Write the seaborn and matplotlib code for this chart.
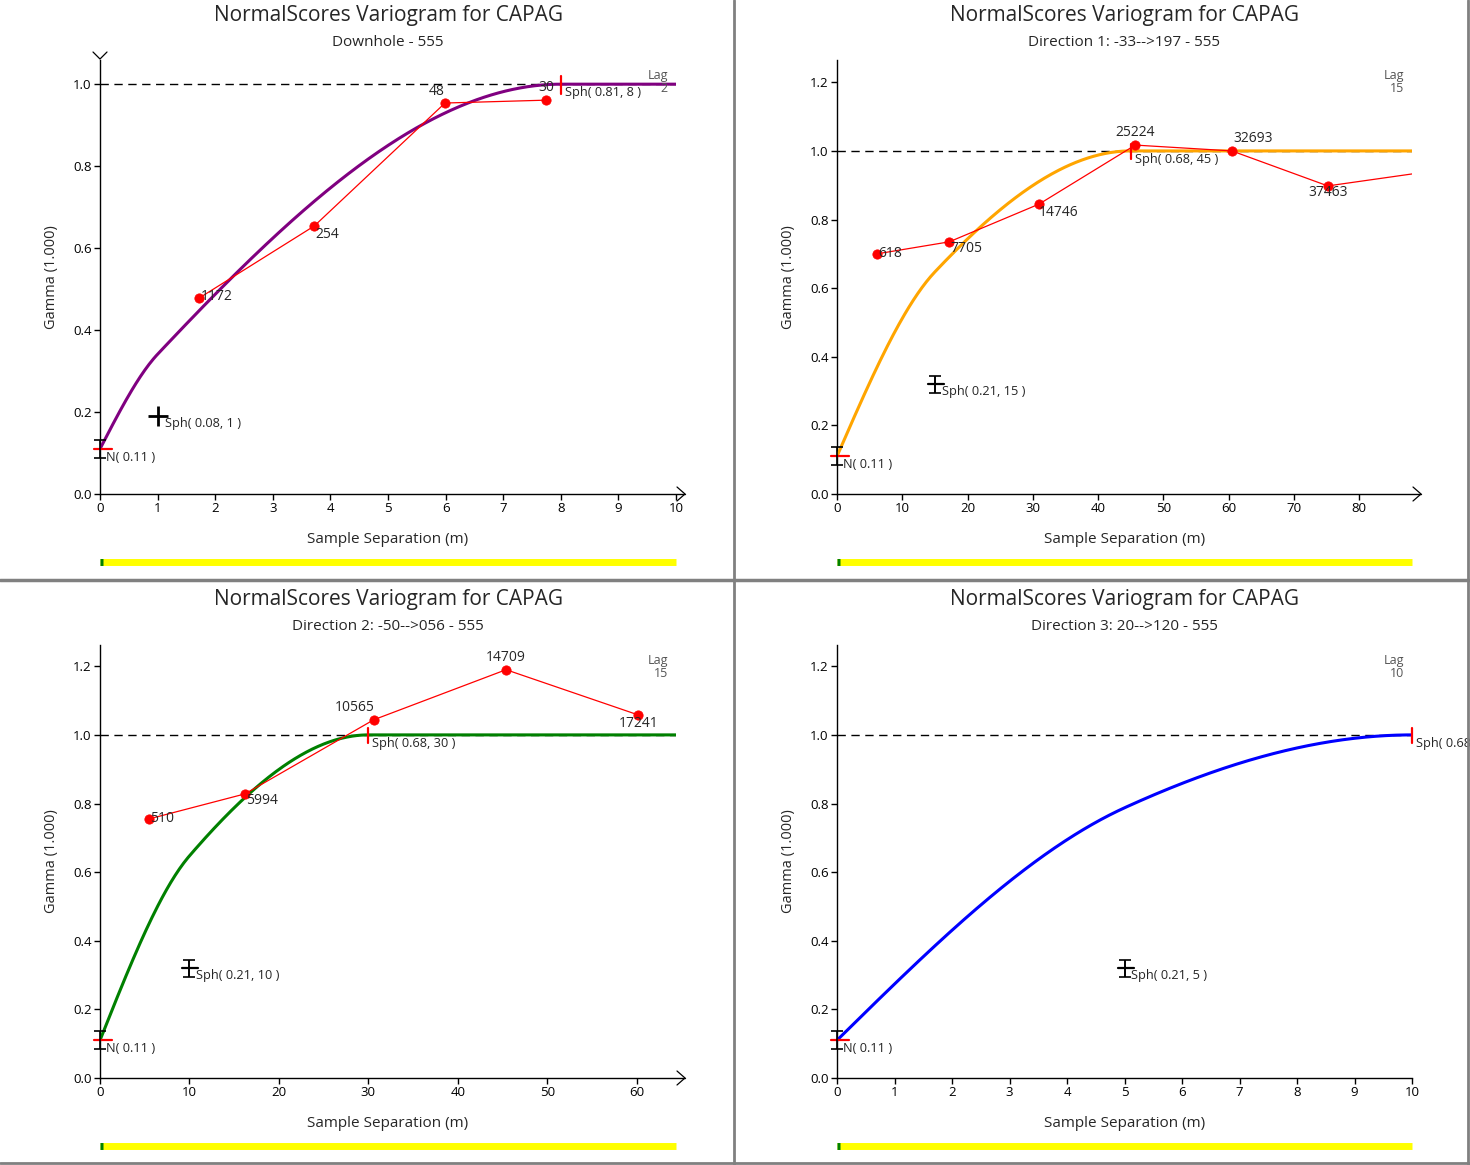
import numpy as np
import pandas as pd
import matplotlib
matplotlib.use("Agg")
import matplotlib.pyplot as plt
from matplotlib.lines import Line2D
import seaborn as sns

# === Data ===
TITLE = "NormalScores Variogram for CAPAG"
SUBTITLES = ["Downhole - 555", "Direction 1: -33-->197 - 555",
             "Direction 2: -50-->056 - 555", "Direction 3: 20-->120 - 555"]
LAGS = ["2", "15", "15", "10"]
MODEL_COLORS = ["#800080", "#FFA500", "#008000", "#0000FF"]

NUGGET = 0.11
# (sill, range) of the two spherical structures in each panel
STRUCT1 = [(0.08, 1), (0.21, 15), (0.21, 10), (0.21, 5)]
STRUCT2 = [(0.81, 8), (0.68, 45), (0.68, 30), (0.68, 10)]
XMAX = [10, 88.1, 64.4, 10]

# experimental points
dh_lag = [1.72, 3.72, 5.99, 7.74]
dh_gam = [0.478, 0.654, 0.954, 0.961]
dh_npairs = ["1172", "254", "48", "30"]

d1_lag = [6.13, 17.2, 30.96, 45.7, 60.5, 75.2, 90.0]
d1_gam = [0.700, 0.735, 0.845, 1.017, 1.000, 0.898, 0.938]
d1_npairs = ["618", "7705", "14746", "25224", "32693", "37463", ""]

d2_lag = [5.47, 16.2, 30.6, 45.4, 60.2]
d2_gam = [0.755, 0.828, 1.044, 1.190, 1.058]
d2_npairs = ["510", "5994", "10565", "14709", "17241"]

d3_lag, d3_gam, d3_npairs = [], [], []

EXP = [(dh_lag, dh_gam, dh_npairs), (d1_lag, d1_gam, d1_npairs),
       (d2_lag, d2_gam, d2_npairs), (d3_lag, d3_gam, d3_npairs)]

# label placement (offset points, horizontal alignment) per panel
LBL_OFF = [
    [(1, 1, "left"), (1, -6, "left"), (-6, 8, "center"), (0, 9, "center")],
    [(1, 0, "left"), (1, -5, "left"), (0, -6, "left"), (0, 9, "center"),
     (1, 9, "left"), (0, -5, "center"), (0, 0, "left")],
    [(1, 0, "left"), (1, -5, "left"), (-14, 9, "center"), (0, 9, "center"),
     (0, -6, "center")],
    [],
]

# axes boxes in pixels: left, right, y of zero, top
BOXES = [(100, 676, 494, 60), (837, 1412, 494, 60),
         (100, 676, 1078, 645), (837, 1412, 1078, 645)]
YTOP = [1.059, 1.265, 1.262, 1.262]
XSTEP = [1, 10, 10, 1]
YMAXTICK = [1.0, 1.2, 1.2, 1.2]

W, H = 1470, 1165

sns.set_theme(style="white")
plt.rcParams['font.family'] = ['Open Sans', 'DejaVu Sans']
plt.rcParams['axes.linewidth'] = 1.0


def sph(h, c, a):
    r = np.minimum(h / a, 1.0)
    return c * (1.5 * r - 0.5 * r ** 3)


fig = plt.figure(figsize=(W / 100, H / 100), dpi=100)

for i in range(4):
    l, r, y0, yt = BOXES[i]
    pw, ph = r - l, y0 - yt
    ax = fig.add_axes([l / W, 1 - y0 / H, pw / W, ph / H])
    ax.set_xlim(0, XMAX[i])
    ax.set_ylim(0, YTOP[i])
    for s in ["top", "right"]:
        ax.spines[s].set_visible(False)
    ax.spines["left"].set_color("black")
    ax.spines["bottom"].set_color("black")
    ax.tick_params(axis="both", direction="out", length=4, width=1,
                   colors="black", labelsize=9.5, pad=2, bottom=True, left=True)
    xt = np.arange(0, XMAX[i] + 0.01, XSTEP[i])
    ax.set_xticks(xt)
    ax.set_xticklabels([f"{v:g}" for v in xt])
    yt_vals = np.arange(0, YMAXTICK[i] + 0.01, 0.2)
    ax.set_yticks(yt_vals)
    ax.set_yticklabels([f"{v:.1f}" for v in yt_vals])
    ax.set_xlabel("Sample Separation (m)", fontsize=11, labelpad=12)
    ax.set_ylabel("Gamma (1.000)", fontsize=10.5, labelpad=10)

    # sill dashed line
    ax.axhline(1.0, color="black", ls=(0, (6, 4)), lw=1.0, zorder=1)

    # model curve
    c1, a1 = STRUCT1[i]
    c2, a2 = STRUCT2[i]
    h = np.linspace(0, XMAX[i], 400)
    model = pd.DataFrame({"h": h, "g": NUGGET + sph(h, c1, a1) + sph(h, c2, a2)})
    sns.lineplot(data=model, x="h", y="g", ax=ax, color=MODEL_COLORS[i],
                 lw=2.2, zorder=3, estimator=None, sort=False)

    # experimental variogram
    lag, gam, npairs = EXP[i]
    if lag:
        exp_df = pd.DataFrame({"lag": lag, "gamma": gam})
        sns.lineplot(data=exp_df, x="lag", y="gamma", ax=ax, color="red",
                     lw=0.9, zorder=4, estimator=None, sort=False)
        sns.scatterplot(data=exp_df, x="lag", y="gamma", ax=ax, color="red",
                        s=45, edgecolor="red", zorder=5)
        for (x, y, t), (dx, dy, ha) in zip(zip(lag, gam, npairs), LBL_OFF[i]):
            if t:
                ax.annotate(t, (x, y), xytext=(dx, dy), textcoords="offset points",
                            fontsize=10, ha=ha, va="center", zorder=6)

    # nugget marker
    ax.errorbar([0], [NUGGET], yerr=0.022 * YTOP[i] / 1.06, fmt="none",
                ecolor="black", capsize=4, elinewidth=1.2, capthick=1.2,
                zorder=7, clip_on=False)
    ax.plot([-6 / pw * XMAX[i], 12 / pw * XMAX[i]], [NUGGET, NUGGET], color="red",
            lw=1.6, zorder=6, clip_on=False)
    ax.annotate("N( 0.11 )", (0, NUGGET), xytext=(4, -6), textcoords="offset points",
                fontsize=9.2, ha="left", va="center")

    # first structure marker
    y1 = NUGGET + c1
    if i == 0:
        ax.plot([a1], [y1], marker="+", ms=14, mew=2, color="black", zorder=7)
    else:
        ax.errorbar([a1], [y1], yerr=0.025, fmt="none",
                    ecolor="black", capsize=4, elinewidth=1.4, capthick=1.2, zorder=7)
        ax.plot([a1 - 7 / pw * XMAX[i], a1 + 9 / pw * XMAX[i]], [y1, y1],
                color="black", lw=1.6, zorder=7)
    ax.annotate(f"Sph( {c1:.2f}, {a1} )", (a1, y1), xytext=(5, -5),
                textcoords="offset points", fontsize=9.2, ha="left", va="center")

    # second structure marker
    y2 = NUGGET + c1 + c2
    ax.plot([a2, a2], [y2 - 0.025, y2 + 0.02], color="red", lw=1.6, zorder=8,
            clip_on=False)
    ax.annotate(f"Sph( {c2:.2f}, {a2} )", (a2, y2), xytext=(3, -6),
                textcoords="offset points", fontsize=9.2, ha="left", va="center",
                annotation_clip=False)

    # lag text
    ax.text(1 - 8 / pw, 1 - 22 / ph, f"Lag\n{LAGS[i]}", transform=ax.transAxes,
            ha="right", va="center", fontsize=9, color="#555555", linespacing=0.95)

    # titles
    cx = (l + r) / 2 / W
    dy = 0 if i < 2 else 584
    fig.text(cx, 1 - (16 + dy) / H, TITLE, ha="center", va="center", fontsize=15)
    fig.text(cx, 1 - (42 + dy) / H, SUBTITLES[i], ha="center", va="center",
             fontsize=11)

    # axis arrows
    if i != 3:
        ax.spines["bottom"].set_visible(False)
        ax.plot([0, 1 + 9 / pw], [0, 0], transform=ax.transAxes, color="black",
                lw=1.0, clip_on=False)
        ax.plot([1 + 1 / pw, 1 + 9 / pw, 1 + 1 / pw],
                [7 / ph, 0, -7 / ph], transform=ax.transAxes,
                color="black", lw=0.9, clip_on=False)
    if i == 0:
        ax.plot([-7 / pw, 0, 7 / pw], [1 + 8 / ph, 1 + 1 / ph, 1 + 8 / ph],
                transform=ax.transAxes, color="black", lw=0.9, clip_on=False)

    # yellow bar beneath each panel
    yb = 1 - (y0 + 68) / H
    fig.add_artist(Line2D([l / W, r / W], [yb, yb], color="#FFFF00", lw=5,
                          solid_capstyle="butt"))
    fig.add_artist(Line2D([l / W, (l + 3) / W], [yb, yb], color="#008000", lw=5,
                          solid_capstyle="butt"))

# panel separators
grey = "#808080"
fig.add_artist(Line2D([734 / W, 734 / W], [0, 1], color=grey, lw=2))
fig.add_artist(Line2D([0, 1], [1 - 580 / H, 1 - 580 / H], color=grey, lw=2.5))
fig.add_artist(Line2D([1468 / W, 1468 / W], [0, 1], color=grey, lw=2))
fig.add_artist(Line2D([0, 1], [1 - 1163 / H, 1 - 1163 / H], color=grey, lw=2))

fig.savefig("out.png", dpi=100)
